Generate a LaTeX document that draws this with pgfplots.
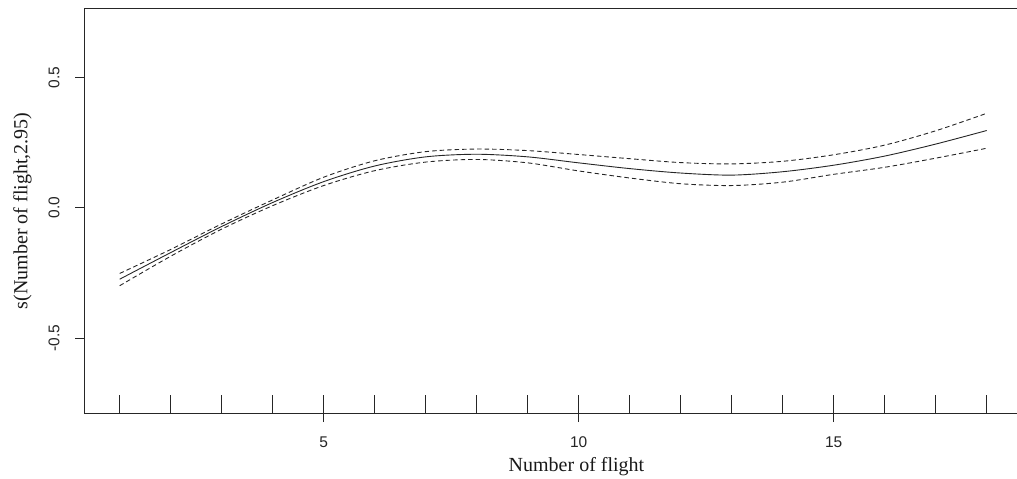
\documentclass[border=0pt]{standalone}
\usepackage{pgfplots}
\pgfplotsset{compat=1.18}
\usepackage{fontspec}
\setmainfont{Liberation Serif}
\newfontfamily\arial{Liberation Sans}
\begin{document}
\begin{tikzpicture}
\useasboundingbox (0,0) rectangle (1017pt,479pt);
\begin{axis}[
  at={(84.3pt,66pt)}, anchor=south west,
  scale only axis, width=932.7pt, height=404.3pt,
  xmin=0.306, xmax=18.594, ymin=-0.787, ymax=0.763,
  axis x line*=box, axis y line*=left,
  axis line style={black!85, line width=0.9pt},
  xtick={5,10,15}, xticklabels={5,10,15},
  ytick={-0.5,0,0.5}, yticklabels={-0.5,0.0,0.5},
  xtick pos=bottom, ytick pos=left,
  tick align=outside, major tick length=9pt,
  tick style={black!85, line width=0.9pt},
  ticklabel style={font=\arial\fontsize{15.5}{18}\selectfont, text=black!85},
  xticklabel style={anchor=base, yshift=-25pt},
  yticklabel style={xshift=-16pt, rotate=90, anchor=base},
  label style={font=\fontsize{20}{24}\selectfont, text=black!90},
  xlabel={Number of flight},
  xlabel style={at={(axis description cs:0.5277,-0.1435)}, anchor=base},
  ylabel={s(Number of flight,2.95)},
  ylabel style={at={(axis description cs:-0.0611,0.5)}, anchor=base, rotate=0},
]
\addplot[black!85, line width=0.9pt, smooth] coordinates {
(1,-0.274) (2,-0.172) (3,-0.072) (4,0.020) (5,0.100) (6,0.160) (7,0.195) (8,0.205) (9,0.195)
(10,0.172) (11,0.150) (12,0.133) (13,0.125) (14,0.138) (15,0.163) (16,0.198) (17,0.244) (18,0.296)};
\addplot[black!85, line width=0.9pt, smooth, dash pattern=on 4.5pt off 3pt] coordinates {
(1,-0.252) (2,-0.160) (3,-0.062) (4,0.030) (5,0.117) (6,0.180) (7,0.215) (8,0.225) (9,0.219)
(10,0.204) (11,0.188) (12,0.173) (13,0.168) (14,0.178) (15,0.203) (16,0.240) (17,0.295) (18,0.362)};
\addplot[black!85, line width=0.9pt, smooth, dash pattern=on 4.5pt off 3pt] coordinates {
(1,-0.299) (2,-0.186) (3,-0.082) (4,0.008) (5,0.085) (6,0.142) (7,0.175) (8,0.185) (9,0.172)
(10,0.141) (11,0.114) (12,0.092) (13,0.085) (14,0.098) (15,0.128) (16,0.155) (17,0.190) (18,0.228)};
\addplot[only marks, mark=|, mark size=9pt, mark options={black!85, line width=0.9pt}] coordinates {
(1,-0.7527) (2,-0.7527) (3,-0.7527) (4,-0.7527) (5,-0.7527) (6,-0.7527) (7,-0.7527) (8,-0.7527) (9,-0.7527)
(10,-0.7527) (11,-0.7527) (12,-0.7527) (13,-0.7527) (14,-0.7527) (15,-0.7527) (16,-0.7527) (17,-0.7527) (18,-0.7527)};
\end{axis}
\end{tikzpicture}
\end{document}
